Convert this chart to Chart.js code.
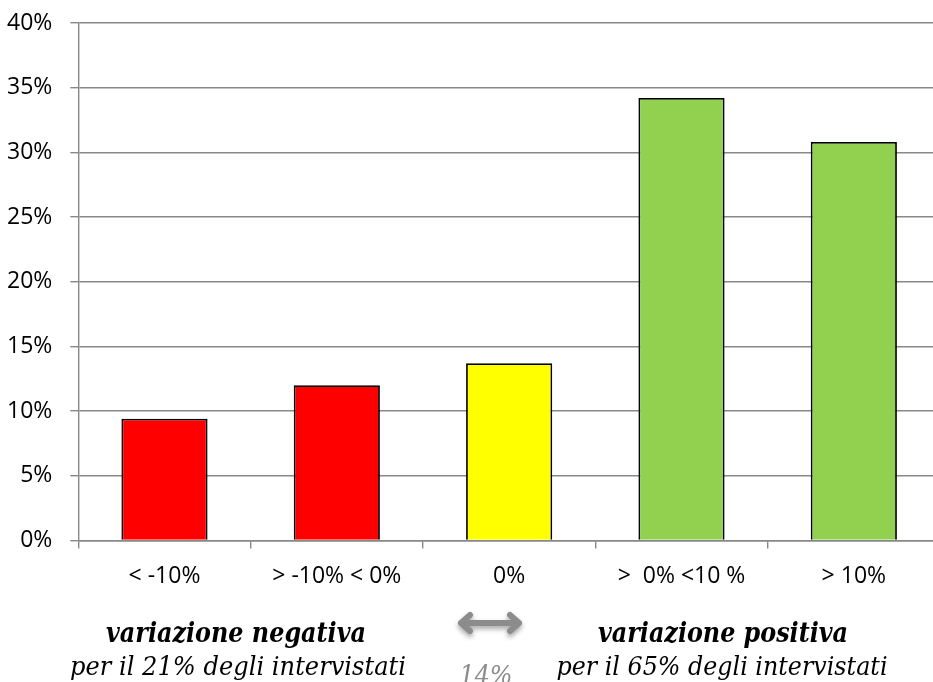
<!DOCTYPE html>
<html>
<head>
<meta charset="utf-8">
<script src="https://cdn.jsdelivr.net/npm/chart.js@4"></script>
<style>
  html, body { margin: 0; padding: 0; background: #fff; overflow: hidden; }
  #wrap { position: relative; width: 940px; height: 682px; }
</style>
</head>
<body>
<div id="wrap"><canvas id="myChart"></canvas></div>
<script>
// categories and values (percent of respondents)
const categories = ['< -10%', '> -10% < 0%', '0%', '>  0% <10 %', '> 10%']
const values = [9.4, 12.0, 13.7, 34.2, 30.8]
const barColors = ['#ff0000', '#ff0000', '#ffff00', '#92d050', '#92d050']
const yTicks = [0, 5, 10, 15, 20, 25, 30, 35, 40]

// text under the chart
const noteLeft = ['variazione negativa', 'per il 21% degli intervistati']
const noteRight = ['variazione positiva', 'per il 65% degli intervistati']
const noteMiddle = '14%'

const serif = "'DejaVu Serif', 'Liberation Serif', serif"
const sans = "'Open Sans', 'Liberation Sans', sans-serif"

// draw text squeezed to a given width, centred on x
function fitText(ctx, txt, x, y, w, font, color) {
  ctx.save()
  ctx.font = font
  ctx.fillStyle = color
  ctx.textAlign = 'center'
  ctx.textBaseline = 'alphabetic'
  let m = ctx.measureText(txt).width
  let sx = w / m
  ctx.translate(x, y)
  ctx.scale(sx, 1)
  ctx.fillText(txt, 0, 0)
  ctx.restore()
}

const notes = {
  id: 'notes',
  afterDraw(chart) {
    const ctx = chart.ctx
    fitText(ctx, noteLeft[0], 236, 642, 260, 'italic bold 27px ' + serif, '#000')
    fitText(ctx, noteLeft[1], 238, 675, 336, 'italic 26px ' + serif, '#000')
    fitText(ctx, noteRight[0], 723, 642, 250, 'italic bold 27px ' + serif, '#000')
    fitText(ctx, noteRight[1], 722, 675, 331, 'italic 26px ' + serif, '#000')
    fitText(ctx, noteMiddle, 486, 684, 53, 'italic 26px ' + serif, '#8c8c8c')

    // double arrow
    ctx.save()
    ctx.shadowColor = 'rgba(0,0,0,0.35)'
    ctx.shadowBlur = 5
    ctx.shadowOffsetY = 3
    ctx.strokeStyle = '#8c8c8c'
    ctx.lineWidth = 6
    ctx.lineCap = 'round'
    ctx.lineJoin = 'round'
    ctx.beginPath()
    ctx.moveTo(461, 623); ctx.lineTo(519, 623)
    ctx.moveTo(470, 615); ctx.lineTo(461, 623); ctx.lineTo(470, 631)
    ctx.moveTo(510, 615); ctx.lineTo(519, 623); ctx.lineTo(510, 631)
    ctx.stroke()
    ctx.restore()
  }
}

var ctx = document.getElementById('myChart').getContext('2d')

var myChart = new Chart(ctx, {
  type: 'bar',
  data: {
    labels: categories,
    datasets: [{
      data: values,
      backgroundColor: barColors,
      borderColor: '#000',
      borderWidth: 1.8,
      barPercentage: 0.5,
      categoryPercentage: 1.0
    }]
  },
  options: {
    responsive: true,
    maintainAspectRatio: false,
    animation: false,
    layout: { padding: { top: 23, left: -11, right: 0, bottom: 78 } },
    plugins: { legend: { display: false }, tooltip: { enabled: false } },
    scales: {
      x: {
        offset: true,
        grid: { offset: true, drawOnChartArea: false, drawTicks: true, tickLength: 8, color: '#888', lineWidth: 1.4 },
        border: { color: '#888', width: 1.4 },
        ticks: { color: '#000', font: { family: sans, size: 23 }, padding: 14, maxRotation: 0, autoSkip: false }
      },
      y: {
        min: 0,
        max: 40,
        afterBuildTicks: (axis) => { axis.ticks = yTicks.map(v => ({ value: v })) },
        afterFit: (s) => { s.paddingTop = 0; s.paddingBottom = 0 },
        grid: { color: '#888', lineWidth: 1.4, tickLength: 8 },
        border: { color: '#888', width: 1.4 },
        ticks: { color: '#000', font: { family: sans, size: 23 }, padding: 18, callback: (v) => v + '%' }
      }
    }
  },
  plugins: [notes]
})
</script>
</body>
</html>
